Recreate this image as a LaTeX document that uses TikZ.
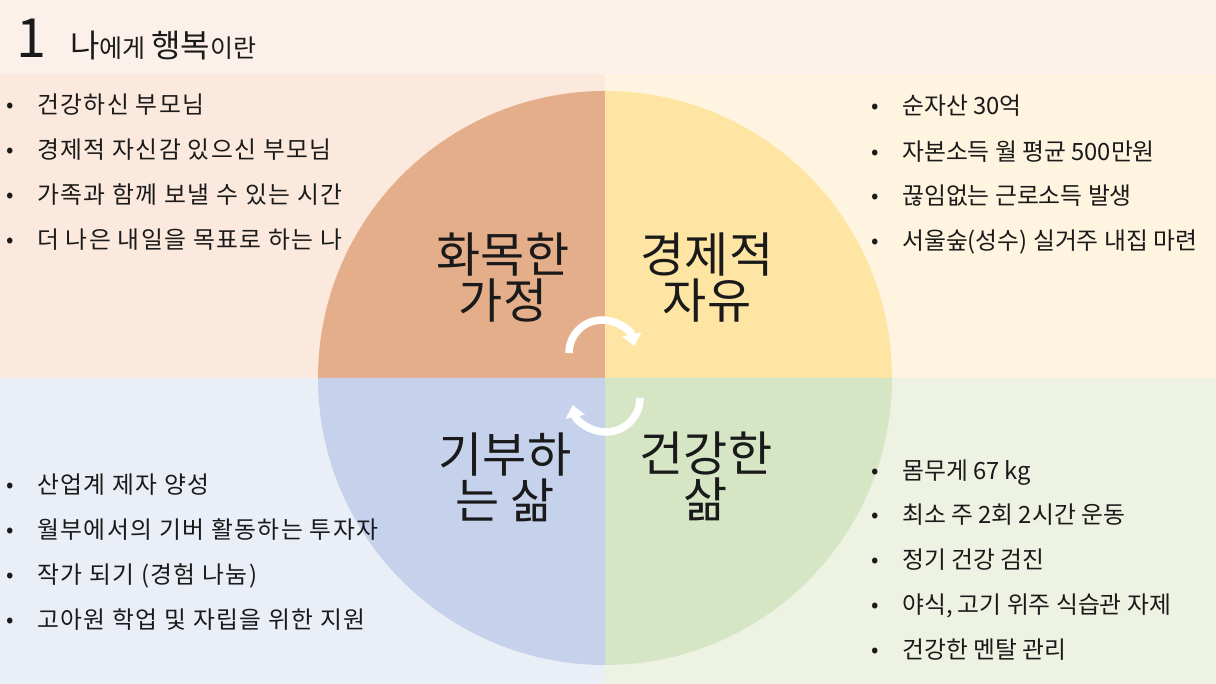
\documentclass[tikz,border=0pt]{standalone}
\usepackage{fontspec}
\setmainfont{Noto Sans CJK KR}
\usetikzlibrary{arrows.meta}
\definecolor{bgtop}{HTML}{FCF1EA}
\definecolor{bgtl}{HTML}{FBE9DD}
\definecolor{bgtr}{HTML}{FEF4DF}
\definecolor{bgbl}{HTML}{EAEEF6}
\definecolor{bgbr}{HTML}{EDF2E3}
\definecolor{qtl}{HTML}{E5AE8A}
\definecolor{qtr}{HTML}{FFE5A3}
\definecolor{qbl}{HTML}{C6D2EC}
\definecolor{qbr}{HTML}{D6E6C5}
\definecolor{txt}{HTML}{1A1A1A}
\tikzset{
  item/.style={anchor=mid west, inner sep=0pt, font=\fontsize{23.8}{26}\selectfont, text=txt},
  itemwide/.style={item, font=\fontsize{23.8}{26}\selectfont\addfontfeature{LetterSpace=6}},
  bul/.style={anchor=mid west, inner sep=0pt, font=\fontsize{22}{24}\selectfont, text=txt},
  big/.style={align=center, inner sep=0pt, font=\fontsize{48}{46}\selectfont, text=txt},
  cyc/.style={draw=white, line width=7.5pt, -{Triangle[width=19pt,length=12pt]}}
}
\begin{document}
\begin{tikzpicture}[x=1pt,y=1pt]
\useasboundingbox (0,0) rectangle (1216,-684);
% backgrounds
\fill[bgtop] (0,0) rectangle (1216,-74);
\fill[bgtl] (0,-74) rectangle (605,-378);
\fill[bgtr] (605,-74) rectangle (1216,-378);
\fill[bgbl] (0,-378) rectangle (605,-684);
\fill[bgbr] (605,-378) rectangle (1216,-684);
% circle quadrants
\coordinate (c) at (605,-378);
\fill[qtl] (c) -- ++(180:287) arc[start angle=180,end angle=90,radius=287] -- cycle;
\fill[qtr] (c) -- ++(90:287) arc[start angle=90,end angle=0,radius=287] -- cycle;
\fill[qbr] (c) -- ++(0:287) arc[start angle=0,end angle=-90,radius=287] -- cycle;
\fill[qbl] (c) -- ++(270:287) arc[start angle=270,end angle=180,radius=287] -- cycle;
% title
\node[anchor=base west, inner sep=0pt, font=\fontsize{54}{54}\selectfont, text=txt] (num) at (16,-58) {1};
\node[anchor=base west, inner sep=0pt, text=txt] (title) at (70,-58)
  {{\fontsize{32}{34}\selectfont 나}{\fontsize{25}{27}\selectfont 에게 }{\fontsize{32}{34}\selectfont 행복}{\fontsize{25}{27}\selectfont 이란}};
% big labels
\node[big] (fam) at (503,-278) {화목한\\가정};
\node[big] (eco) at (707,-278) {경제적\\자유};
\node[big] (don) at (505,-477) {기부하\\는 삶};
\node[big] (hea) at (706,-476) {건강한\\삶};
% cycle arrows
\coordinate (a1s) at (569,-353);
\coordinate (a2s) at (640,-398);
\draw[cyc] (a1s) arc[start angle=180,end angle=12,radius=33] coordinate (a1e);
\draw[cyc] (a2s) arc[start angle=0,end angle=-168,radius=34] coordinate (a2e);
% top-left list
\foreach \t/\y [count=\i] in {건강하신 부모님/105, 경제적 자신감 있으신 부모님/150, 가족과 함께 보낼 수 있는 시간/195, 더 나은 내일을 목표로 하는 나/240}{
  \node[bul] (tlb\i) at (6,{-\y-5}) {•};
  \node[itemwide] (tl\i) at (37,{-\y-6}) {\t};
}
% top-right list
\foreach \t/\y [count=\i] in {순자산 30억/106, 자본소득 월 평균 500만원/152, 끊임없는 근로소득 발생/196, 서울숲(성수) 실거주 내집 마련/241}{
  \node[bul] (trb\i) at (871,{-\y-5}) {•};
  \node[item] (tr\i) at (902,{-\y-6}) {\t};
}
% bottom-left list
\foreach \t/\y [count=\i] in {산업계 제자 양성/485, 월부에서의 기버 활동하는 투자자/530, 작가 되기 (경험 나눔)/575, 고아원 학업 및 자립을 위한 지원/620}{
  \node[bul] (blb\i) at (6,{-\y-5}) {•};
  \node[itemwide] (bl\i) at (37,{-\y-6}) {\t};
}
% bottom-right list
\foreach \t/\y [count=\i] in {몸무게 67 kg/471, 최소 주 2회 2시간 운동/515, 정기 건강 검진/560, {야식, 고기 위주 식습관 자제}/605, 건강한 멘탈 관리/650}{
  \node[bul] (brb\i) at (871,{-\y-5}) {•};
  \node[item] (br\i) at (902,{-\y-6}) {\t};
}
\end{tikzpicture}
\end{document}
